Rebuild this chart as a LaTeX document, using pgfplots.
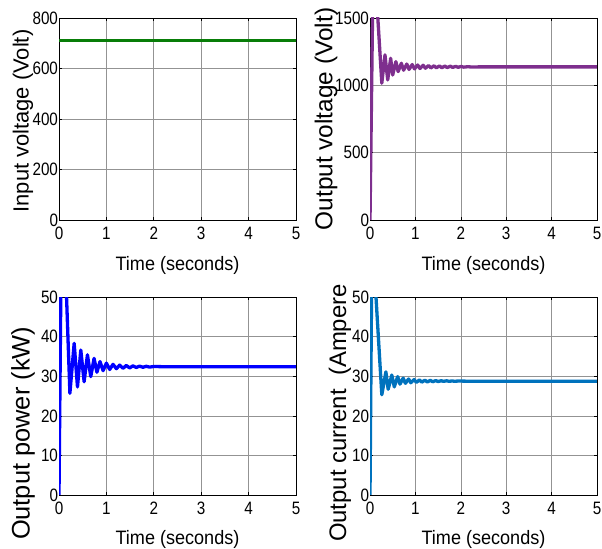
\documentclass[border=0pt]{standalone}
\usepackage{fontspec}
\setmainfont{Liberation Sans}
\usepackage{pgfplots}
\pgfplotsset{compat=1.18}
\definecolor{cgreen}{RGB}{8,125,8}
\definecolor{cpurple}{RGB}{126,47,142}
\definecolor{cblue}{RGB}{0,0,255}
\definecolor{ccur}{RGB}{0,114,189}
\pgfplotsset{
  myax/.style={
    scale only axis, anchor=south west,
    xmin=0, xmax=5, xtick={0,1,2,3,4,5},
    grid=major,
    major grid style={line width=0.6bp, gray!85},
    axis line style={line width=0.8bp, black},
    tick align=inside, major tick length=3bp,
    tick style={black, line width=0.6bp},
    /pgf/number format/assume math mode=true,
    /pgf/number format/1000 sep={},
    ticklabel style={font=\fontsize{18}{18}\selectfont, xscale=0.85},
    yticklabel style={inner sep=1bp, text height=12.5bp, text depth=0bp},
    xticklabel style={inner sep=0bp, yshift=-7bp, text height=12.5bp, text depth=0bp},
    xlabel={Time (seconds)},
    xlabel style={font=\fontsize{19.5}{19.5}\selectfont, xscale=0.93, anchor=center},
    ylabel style={anchor=center},
    every axis plot/.append style={line width=3.3bp, line join=round},
  }
}
\begin{document}
\begin{tikzpicture}
\useasboundingbox (0,0) rectangle (602bp,549bp);
% Panel 1: input voltage
\begin{axis}[myax, at={(59bp,329bp)}, width=237bp, height=202bp,
  ymin=0, ymax=800, ytick={0,200,400,600,800},
  ylabel={Input voltage (Volt)},
  ylabel style={font=\fontsize{22}{22}\selectfont, at={(axis description cs:-0.152,0.49)}},
  xlabel style={at={(axis description cs:0.5,-0.223)}}]
\addplot[cgreen] coordinates {(0,710) (5,710)};
\end{axis}
% Panel 2: output voltage
\begin{axis}[myax, at={(370bp,329bp)}, width=227bp, height=202bp,
  ymin=0, ymax=1500, ytick={0,500,1000,1500},
  ylabel={Output voltage (Volt)},
  ylabel style={font=\fontsize{24.5}{24.5}\selectfont, at={(axis description cs:-0.194,0.5)}},
  xlabel style={at={(axis description cs:0.5,-0.223)}}]
\addplot[cpurple] coordinates {
(0,0) (0.07,1900) (0.10,1900) (0.26,1016) (0.33,1226) (0.39,1040) (0.455,1201)
(0.50,1077) (0.57,1176) (0.62,1102) (0.69,1164) (0.74,1112) (0.81,1158)
(0.86,1118) (0.93,1154) (0.98,1122) (1.05,1151) (1.10,1125) (1.17,1149)
(1.22,1127) (1.29,1147) (1.34,1129) (1.41,1145) (1.46,1130) (1.53,1144)
(1.58,1131) (1.65,1143) (1.70,1132) (1.77,1142) (1.82,1133) (1.89,1141)
(1.94,1134) (2.01,1140) (2.06,1135) (2.15,1138) (2.25,1136) (2.4,1137) (5,1137)};
\end{axis}
% Panel 3: output power
\begin{axis}[myax, at={(59bp,54bp)}, width=237bp, height=198bp,
  ymin=0, ymax=50, ytick={0,10,20,30,40,50},
  ylabel={Output power (kW)},
  ylabel style={font=\fontsize{25.5}{25.5}\selectfont, at={(axis description cs:-0.152,-0.245)}, anchor=west},
  xlabel style={at={(axis description cs:0.5,-0.227)}}]
\addplot[cblue] coordinates {
(0,0) (0.045,60) (0.13,60) (0.23,25.7) (0.32,38.3) (0.39,27.3) (0.46,36.6)
(0.53,28.6) (0.60,35.4) (0.67,29.9) (0.74,34.5) (0.80,31.0) (0.865,33.7)
(0.93,31.4) (1.0,33.3) (1.07,31.7) (1.14,33.0) (1.21,31.9) (1.28,32.8)
(1.35,32.0) (1.42,32.7) (1.49,32.1) (1.56,32.6) (1.63,32.2) (1.70,32.55)
(1.77,32.25) (1.84,32.5) (1.91,32.3) (2.0,32.45) (2.2,32.4) (5,32.4)};
\end{axis}
% Panel 4: output current
\begin{axis}[myax, at={(370bp,54bp)}, width=227bp, height=198bp,
  ymin=0, ymax=50, ytick={0,10,20,30,40,50},
  ylabel={Output current\ \ (Ampere},
  ylabel style={font=\fontsize{24}{24}\selectfont, at={(axis description cs:-0.132,-0.255)}, anchor=west},
  xlabel style={at={(axis description cs:0.5,-0.227)}}]
\addplot[ccur] coordinates {
(0,0) (0.04,60) (0.08,60) (0.26,25.3) (0.35,31.1) (0.40,26.7) (0.48,30.3)
(0.535,27.3) (0.61,29.9) (0.66,28.0) (0.73,29.5) (0.78,28.2) (0.85,29.3)
(0.90,28.35) (0.97,29.15) (1.02,28.45) (1.09,29.05) (1.14,28.5) (1.21,29.0)
(1.26,28.55) (1.33,28.95) (1.38,28.6) (1.45,28.9) (1.50,28.65) (1.57,28.85)
(1.62,28.7) (1.69,28.85) (1.74,28.7) (1.81,28.8) (1.86,28.72) (1.95,28.78)
(2.1,28.75) (5,28.75)};
\end{axis}
\end{tikzpicture}
\end{document}
